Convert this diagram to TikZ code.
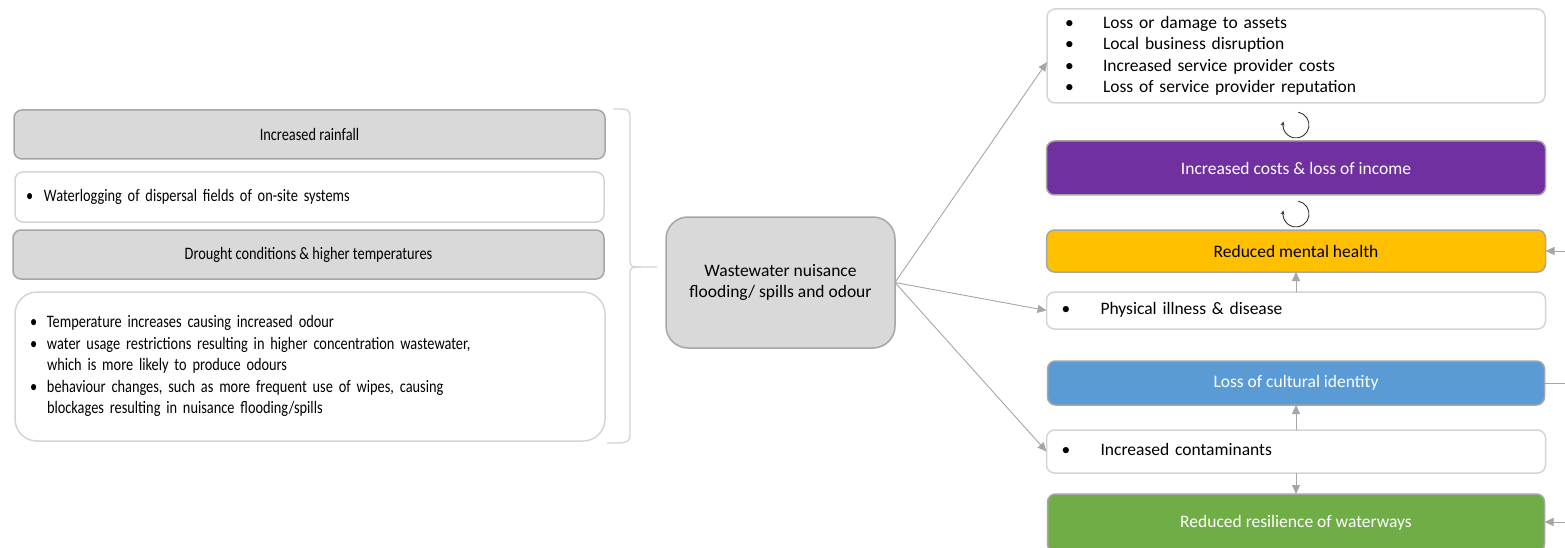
\documentclass[tikz,border=0pt]{standalone}
\usepackage{fontspec}
\setmainfont{Carlito}
\newfontfamily\narrowfont[FakeStretch=0.82]{Carlito}
\usetikzlibrary{arrows.meta}

\definecolor{boxgray}{HTML}{D9D9D9}
\definecolor{edgegray}{HTML}{A6A6A6}
\definecolor{lightedge}{HTML}{D4D4D4}
\definecolor{linkgray}{HTML}{A6A6A6}
\definecolor{impurple}{HTML}{7030A0}
\definecolor{imyellow}{HTML}{FFC000}
\definecolor{imblue}{HTML}{5B9BD5}
\definecolor{imgreen}{HTML}{70AD47}

% bullet list as a two-column table: #1 = bullet column width, #2 = rows
\newcommand\blist[2]{\begin{tabular}{@{}p{#1}@{}l@{}}#2\end{tabular}}
\newcommand\bi{\textbullet}

\begin{document}
\begin{tikzpicture}[x=1pt,y=-1pt,
  every node/.style={font=\fontsize{17.5}{21.5}\selectfont, inner sep=0pt, outer sep=0pt},
  narrow/.style={font=\narrowfont\fontsize{17.5}{21.5}\selectfont},
  graybox/.style={draw=edgegray, fill=boxgray, line width=1.5pt, rounded corners=8pt},
  plainbox/.style={draw=lightedge, fill=white, line width=1.5pt, rounded corners=8pt},
  colbox/.style={draw=edgegray, fill=#1, line width=1.5pt, rounded corners=8pt},
  link/.style={draw=linkgray, line width=0.9pt},
  arr/.style={link, -{Triangle[length=9pt,width=8pt]}},
  brace/.style={draw=lightedge, line width=1.3pt},
  cyc/.style={draw=black!80, line width=0.9pt, -{Stealth[length=4pt,width=4pt]}}
]
\useasboundingbox (0,0) rectangle (1565,548);
\clip (0,0) rectangle (1565,548);

% ---- drivers (left column) ----
\node[graybox, narrow, minimum width=591pt, minimum height=49pt] (rain) at (309.5,134.5) {Increased rainfall};
\node[plainbox, narrow, minimum height=50pt, text width=567pt, inner xsep=11pt, align=left] (wlog) at (309.5,197)
  {\blist{18pt}{\bi & Waterlogging of dispersal fields of on-site systems}};
\node[graybox, narrow, minimum width=591pt, minimum height=49pt] (drought) at (308.5,254.5) {Drought conditions \& higher temperatures};
\node[plainbox, narrow, rounded corners=22pt, minimum height=149pt, text width=560pt, inner xsep=15pt, align=left] (ldetail) at (310,366.5)
  {\blist{17pt}{%
   \bi & Temperature increases causing increased odour\\
   \bi & water usage restrictions resulting in higher concentration wastewater,\\
       & which is more likely to produce odours\\
   \bi & behaviour changes, such as more frequent use of wipes, causing\\
       & blockages resulting in nuisance flooding/spills}};

% brace grouping the drivers
\coordinate (btip) at (657,267);
\draw[brace] (613,109) .. controls (630,109) .. (630,120) -- (630,257)
  .. controls (630,267) .. (641,267) -- (btip);
\draw[brace] (607,443) .. controls (630,443) .. (630,432) -- (630,277)
  .. controls (630,267) .. (641,267);

% ---- central hazard ----
\node[graybox, rounded corners=22pt, minimum width=229pt, minimum height=131pt, align=center] (core) at (780.5,282.5)
  {Wastewater nuisance\\flooding/ spills and odour};

% ---- impacts (right column) ----
\node[plainbox, minimum height=94pt, text width=462pt, inner xsep=18pt, align=left] (assets) at (1296,56)
  {\blist{38pt}{%
   \bi & Loss or damage to assets\\
   \bi & Local business disruption\\
   \bi & Increased service provider costs\\
   \bi & Loss of service provider reputation}};
\node[colbox=impurple, text=white, minimum width=499pt, minimum height=54pt] (income) at (1296,168) {Increased costs \& loss of income};
\node[colbox=imyellow, text=black, minimum width=499pt, minimum height=42pt] (mental) at (1296,251) {Reduced mental health};
\node[plainbox, minimum height=37pt, text width=469pt, inner xsep=15pt, align=left] (illness) at (1296,310.5)
  {\blist{39pt}{\bi & Physical illness \& disease}};
\node[colbox=imblue, text=white, minimum width=497pt, minimum height=44pt] (culture) at (1296,383) {Loss of cultural identity};
\node[plainbox, minimum height=43pt, text width=469pt, inner xsep=15pt, align=left] (contam) at (1296,451.5)
  {\blist{39pt}{\bi & Increased contaminants}};
\node[colbox=imgreen, text=white, minimum width=497pt, minimum height=58pt] (resil) at (1296,523) {Reduced resilience of waterways};

% cycle markers between the economic boxes
\coordinate (cycA) at (1296,125);
\coordinate (cycB) at (1296,214);
\draw[cyc] (cycA) ++(-80:13) arc[start angle=-80, end angle=195, radius=13];
\draw[cyc] (cycB) ++(-80:13) arc[start angle=-80, end angle=195, radius=13];

% ---- connectors ----
\draw[arr] (core.east) -- ([yshift=-6pt]assets.west);
\draw[arr] (core.east) -- (illness.west);
\draw[arr] (core.east) -- (contam.west);
\draw[arr] (illness.north) -- (mental.south);
\draw[arr] (contam.north) -- (culture.south);
\draw[arr] (contam.south) -- (resil.north);

% links leaving the right edge
\coordinate (edgeM) at (1565,251);
\coordinate (edgeC) at (1565,383);
\coordinate (edgeR) at (1565,522);
\draw[arr] (edgeM) -- (mental.east);
\draw[link] (culture.east) -- (edgeC);
\draw[arr] (edgeR) -- ([yshift=1pt]resil.east);
\end{tikzpicture}
\end{document}
